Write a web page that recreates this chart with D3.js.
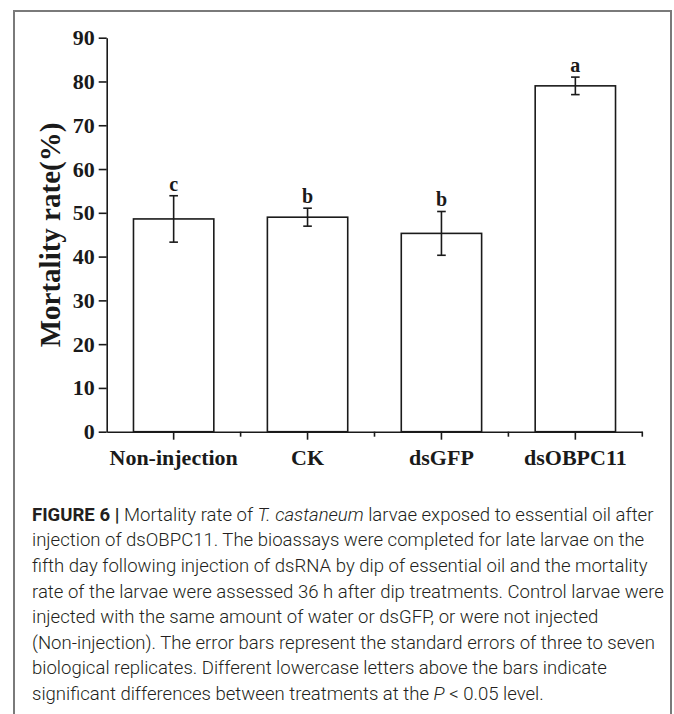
<!DOCTYPE html>
<html>
<head>
<meta charset="utf-8">
<script src="https://cdn.jsdelivr.net/npm/d3@7/dist/d3.min.js"></script>
<style>
  html, body { margin: 0; padding: 0; background: #fff; }
  svg { display: block; }
</style>
</head>
<body>
<svg id="chart" width="674" height="714"></svg>
<script>
// ---- data ----
const categories = ["Non-injection", "CK", "dsGFP", "dsOBPC11"];
const mortality = [48.6, 49.0, 45.3, 79.0];
const stdErr = [5.3, 2.05, 5.0, 2.0];
const sigLetters = ["c", "b", "b", "a"];
const yTicks = [0, 10, 20, 30, 40, 50, 60, 70, 80, 90];
const yLabel = "Mortality rate(%)";
const captionLines = [
  [{t: "FIGURE 6 | ", b: true}, {t: "Mortality rate of "}, {t: "T. castaneum", i: true}, {t: " larvae exposed to essential oil after"}],
  [{t: "injection of dsOBPC11. The bioassays were completed for late larvae on the"}],
  [{t: "fifth day following injection of dsRNA by dip of essential oil and the mortality"}],
  [{t: "rate of the larvae were assessed 36 h after dip treatments. Control larvae were"}],
  [{t: "injected with the same amount of water or dsGFP, or were not injected"}],
  [{t: "(Non-injection). The error bars represent the standard errors of three to seven"}],
  [{t: "biological replicates. Different lowercase letters above the bars indicate"}],
  [{t: "significant differences between treatments at the "}, {t: "P", i: true}, {t: " < 0.05 level."}]
];

const svg = d3.select("#chart");
const serif = "'Liberation Serif', 'Times New Roman', serif";
const ink = "#1a1a1a";

// outer frame
svg.append("rect").attr("x", 14).attr("y", 11).attr("width", 657).attr("height", 720)
  .attr("fill", "none").attr("stroke", "#7a7a7a").attr("stroke-width", 2);

const x0 = 106.7, x1 = 642.3, yTop = 37.7, yBot = 431.7;
const x = d3.scaleBand().domain(categories).range([x0, x1]).paddingInner(0).paddingOuter(0);
const y = d3.scaleLinear().domain([0, 90]).range([yBot, yTop]);
const bw = x.bandwidth();
const barW = bw * 0.6;

const g = svg.append("g");

// bars
g.selectAll("rect.bar").data(categories).join("rect")
  .attr("class", "bar")
  .attr("x", d => x(d) + (bw - barW) / 2)
  .attr("y", (d, i) => y(mortality[i]))
  .attr("width", barW)
  .attr("height", (d, i) => yBot - y(mortality[i]))
  .attr("fill", "#fff").attr("stroke", ink).attr("stroke-width", 1.6);

// error bars
const cap = 4.3;
categories.forEach((c, i) => {
  const cx = x(c) + bw / 2;
  const hi = y(mortality[i] + stdErr[i]), lo = y(mortality[i] - stdErr[i]);
  g.append("line").attr("x1", cx).attr("x2", cx).attr("y1", hi).attr("y2", lo)
    .attr("stroke", ink).attr("stroke-width", 1.6);
  [hi, lo].forEach(v => g.append("line").attr("x1", cx - cap).attr("x2", cx + cap)
    .attr("y1", v).attr("y2", v).attr("stroke", ink).attr("stroke-width", 1.6));
  g.append("text").attr("x", cx).attr("y", hi - 5)
    .attr("text-anchor", "middle").attr("font-family", serif).attr("font-weight", "bold")
    .attr("font-size", 20).attr("fill", ink).text(sigLetters[i]);
});

// y axis
const yAxis = g.append("g").attr("transform", `translate(${x0},0)`)
  .call(d3.axisLeft(y).tickValues(yTicks).tickSize(8).tickPadding(4).tickSizeOuter(0));
yAxis.select(".domain").attr("stroke", ink).attr("stroke-width", 1.6);
yAxis.selectAll(".tick line").attr("stroke", ink).attr("stroke-width", 1.6);
yAxis.selectAll(".tick text").attr("font-family", serif).attr("font-weight", "bold")
  .attr("font-size", 22).attr("fill", ink);

// x axis
const xAxis = g.append("g").attr("transform", `translate(0,${yBot})`)
  .call(d3.axisBottom(x).tickSize(8).tickPadding(10).tickSizeOuter(0));
xAxis.select(".domain").attr("stroke", ink).attr("stroke-width", 1.6);
xAxis.selectAll(".tick line").attr("stroke", ink).attr("stroke-width", 1.6);
xAxis.selectAll(".tick text").attr("font-family", serif).attr("font-weight", "bold")
  .attr("font-size", 22).attr("fill", ink);
// minor ticks at band boundaries
xAxis.selectAll("line.minor").data(categories).join("line").attr("class", "minor")
  .attr("x1", d => x(d) + bw).attr("x2", d => x(d) + bw)
  .attr("y1", 0).attr("y2", 5).attr("stroke", ink).attr("stroke-width", 1.6);

// y title
svg.append("text").attr("transform", `translate(60,235) rotate(-90)`)
  .attr("text-anchor", "middle").attr("font-family", serif).attr("font-weight", "bold")
  .attr("font-size", 29).attr("fill", ink).text(yLabel);

// caption
const cap0 = 520.7, capStep = 25.6, capX = 32;
const capG = svg.append("g").attr("font-family", "Roboto, 'Liberation Sans', sans-serif")
  .attr("font-weight", 300).attr("fill", "#231f20");
const lineEls = [];
captionLines.forEach((parts, li) => {
  const t = capG.append("text").attr("x", capX).attr("y", cap0 + li * capStep);
  parts.forEach(p => {
    const s = t.append("tspan").text(p.t);
    if (p.b) s.attr("font-weight", 700);
    if (p.i) s.attr("font-style", "italic");
  });
  lineEls.push(t);
});
// size font so the first line spans the measured width
capG.attr("font-size", 16);
const w0 = lineEls[0].node().getComputedTextLength();
capG.attr("font-size", 16 * 622 / w0);
</script>
</body>
</html>
